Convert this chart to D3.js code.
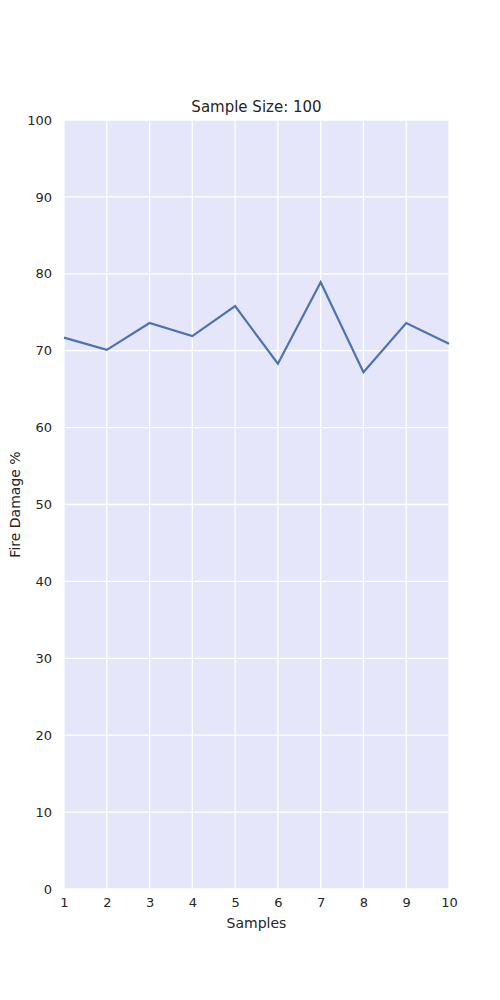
<!DOCTYPE html>
<html>
<head>
<meta charset="utf-8">
<script src="https://cdn.jsdelivr.net/npm/d3@7"></script>
<style>
body { margin: 0; background: #fff; }
text { font-family: "DejaVu Sans", sans-serif; fill: #262626; }
</style>
</head>
<body>
<div id="chart"></div>
<script>
// Data
var samples = [1, 2, 3, 4, 5, 6, 7, 8, 9, 10];
var damage = [71.7, 70.1, 73.6, 71.9, 75.8, 68.3, 78.9, 67.2, 73.6, 70.9];
var yTicks = [0, 10, 20, 30, 40, 50, 60, 70, 80, 90, 100];

var svgWidth = 500, svgHeight = 1000;
var margin = { top: 120, right: 51, bottom: 111, left: 64 };
var width = svgWidth - margin.left - margin.right;
var height = svgHeight - margin.top - margin.bottom;

var svg = d3.select("#chart").append("svg")
  .attr("width", svgWidth)
  .attr("height", svgHeight);

var chartGroup = svg.append("g")
  .attr("transform", `translate(${margin.left}, ${margin.top})`);

var x = d3.scaleLinear().domain([1, 10]).range([0, width]);
var y = d3.scaleLinear().domain([0, 100]).range([height, 0]);

chartGroup.append("rect")
  .attr("width", width)
  .attr("height", height)
  .attr("fill", "#e6e6fa");

// grid
chartGroup.selectAll(".vgrid").data(samples).enter().append("line")
  .attr("x1", d => x(d)).attr("x2", d => x(d))
  .attr("y1", 0).attr("y2", height)
  .attr("stroke", "#fff").attr("stroke-width", 1.3);
chartGroup.selectAll(".hgrid").data(yTicks).enter().append("line")
  .attr("y1", d => y(d)).attr("y2", d => y(d))
  .attr("x1", 0).attr("x2", width)
  .attr("stroke", "#fff").attr("stroke-width", 1.3);

var bottomAxis = d3.axisBottom(x).tickValues(samples).tickSize(0).tickPadding(9);
var leftAxis = d3.axisLeft(y).tickValues(yTicks).tickSize(0).tickPadding(12);

var xAxis = chartGroup.append("g")
  .attr("transform", `translate(0, ${height})`)
  .call(bottomAxis);
var yAxis = chartGroup.append("g").call(leftAxis);
[xAxis, yAxis].forEach(function(a) {
  a.select(".domain").remove();
  a.selectAll("text").style("font-size", "13px").style("font-family", "DejaVu Sans, sans-serif").attr("fill", "#262626");
});

var line = d3.line()
  .x((d, i) => x(samples[i]))
  .y(d => y(d));

chartGroup.append("path")
  .datum(damage)
  .attr("d", line)
  .attr("fill", "none")
  .attr("stroke", "#4c72b0")
  .attr("stroke-width", 2.2);

chartGroup.append("text")
  .attr("x", width / 2).attr("y", -8)
  .attr("text-anchor", "middle")
  .style("font-size", "15px")
  .text("Sample Size: 100");

chartGroup.append("text")
  .attr("x", width / 2).attr("y", height + 39)
  .attr("text-anchor", "middle")
  .style("font-size", "14px")
  .text("Samples");

chartGroup.append("text")
  .attr("transform", "rotate(-90)")
  .attr("x", -height / 2).attr("y", -44)
  .attr("text-anchor", "middle")
  .style("font-size", "14px")
  .text("Fire Damage %");
</script>
</body>
</html>
